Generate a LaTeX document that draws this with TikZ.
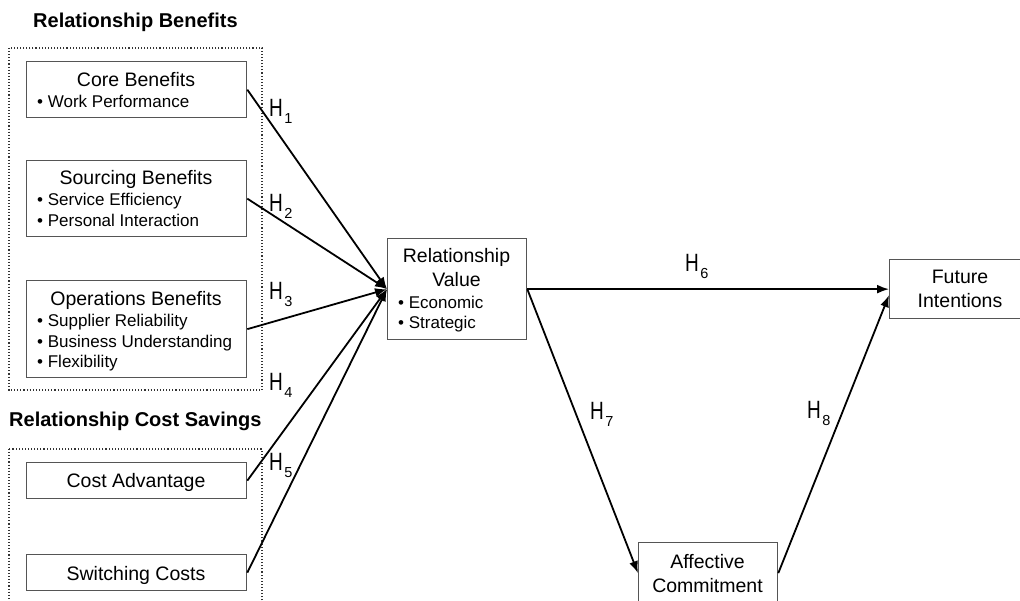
\documentclass[tikz,border=0pt]{standalone}
\usepackage{fontspec}
\usepackage{graphicx}
\setmainfont{Liberation Sans}
\usetikzlibrary{arrows.meta}

\definecolor{boxline}{HTML}{555555}
\definecolor{dotline}{HTML}{333333}

% hypothesis label: H with a subscript number
\newcommand\hyp[1]{\scalebox{0.76}[1]{\fontsize{25}{25}\selectfont H}\kern1.5pt\raisebox{-7pt}{\fontsize{14.5}{15}\selectfont #1}}

\tikzset{
  group/.style={draw=dotline, line width=1.1pt, dash pattern=on 1.1pt off 2pt},
  construct/.style={draw=boxline, line width=1.3pt, inner sep=0pt, anchor=north west},
  heading/.style={inner sep=0pt, anchor=base west, font=\fontsize{20}{20}\selectfont\bfseries},
  title/.style={inner sep=0pt, anchor=base, font=\fontsize{19.5}{20}\selectfont},
  item/.style={inner sep=0pt, anchor=base west, font=\fontsize{17}{18}\selectfont},
  hlabel/.style={inner sep=0pt, anchor=base west},
  path/.style={line width=1.8pt, -{Latex[length=12pt,width=9pt]}},
}

\begin{document}
\begin{tikzpicture}[x=1pt,y=-1pt]
\useasboundingbox (0,0) rectangle (1020,601);

% group frames and their headings
\node[heading] (hbenefits) at (33,28) {Relationship Benefits};
\draw[group] (9,48) rectangle (262,390);
\node[heading] (hsavings) at (9,427) {Relationship Cost Savings};
\draw[group] (9,449) rectangle (262,640);

% relationship benefit constructs
\node[construct, minimum width=220pt, minimum height=56pt] (core) at (26,61) {};
\node[title] (coret) at (136,87) {Core Benefits};
\node[item] (core1) at (37,108) {\textbullet\ Work Performance};

\node[construct, minimum width=220pt, minimum height=76pt] (sourcing) at (26,160) {};
\node[title] (sourcingt) at (136,185) {Sourcing Benefits};
\node[item] (sourcing1) at (37,206) {\textbullet\ Service Efficiency};
\node[item] (sourcing2) at (37,227) {\textbullet\ Personal Interaction};

\node[construct, minimum width=220pt, minimum height=97pt] (operations) at (26,280) {};
\node[title] (operationst) at (136,306) {Operations Benefits};
\node[item] (operations1) at (37,327) {\textbullet\ Supplier Reliability};
\node[item] (operations2) at (37,348) {\textbullet\ Business Understanding};
\node[item] (operations3) at (37,368) {\textbullet\ Flexibility};

% relationship cost saving constructs
\node[construct, minimum width=220pt, minimum height=36pt] (cost) at (26,462) {};
\node[title] (costt) at (136,487) {Cost Advantage};
\node[construct, minimum width=220pt, minimum height=36pt] (switching) at (26,554) {};
\node[title] (switchingt) at (136,580) {Switching Costs};

% relationship value
\node[construct, minimum width=139pt, minimum height=101pt] (value) at (387,238) {};
\node[title] (valuet1) at (456.5,263) {Relationship};
\node[title] (valuet2) at (456.5,287) {Value};
\node[item] (value1) at (398,309) {\textbullet\ Economic};
\node[item] (value2) at (398,329) {\textbullet\ Strategic};

% outcomes
\node[construct, minimum width=142pt, minimum height=59pt] (future) at (889,259) {};
\node[title] (futuret1) at (960,284) {Future};
\node[title] (futuret2) at (960,308) {Intentions};

\node[construct, minimum width=139pt, minimum height=61pt] (affective) at (638,542) {};
\node[title] (affectivet1) at (707.5,568) {Affective};
\node[title] (affectivet2) at (707.5,592) {Commitment};

% hypothesised paths
\draw[path] (core.east) -- (value.west);
\draw[path] (sourcing.east) -- (value.west);
\draw[path] (operations.east) -- (value.west);
\draw[path] (cost.east) -- (value.west);
\draw[path] (switching.east) -- (value.west);
\draw[path] (value.east) -- (future.west);
\draw[path] (value.east) -- (affective.west);
\draw[path] (affective.east) -- ([yshift=-6pt]future.west);

% hypothesis labels
\node[hlabel] (h1) at (269,117) {\hyp{1}};
\node[hlabel] (h2) at (269,212) {\hyp{2}};
\node[hlabel] (h3) at (269,300) {\hyp{3}};
\node[hlabel] (h4) at (269,391) {\hyp{4}};
\node[hlabel] (h5) at (269,470) {\hyp{5}};
\node[hlabel] (h6) at (685,272) {\hyp{6}};
\node[hlabel] (h7) at (590,420) {\hyp{7}};
\node[hlabel] (h8) at (807,418) {\hyp{8}};
\end{tikzpicture}
\end{document}
